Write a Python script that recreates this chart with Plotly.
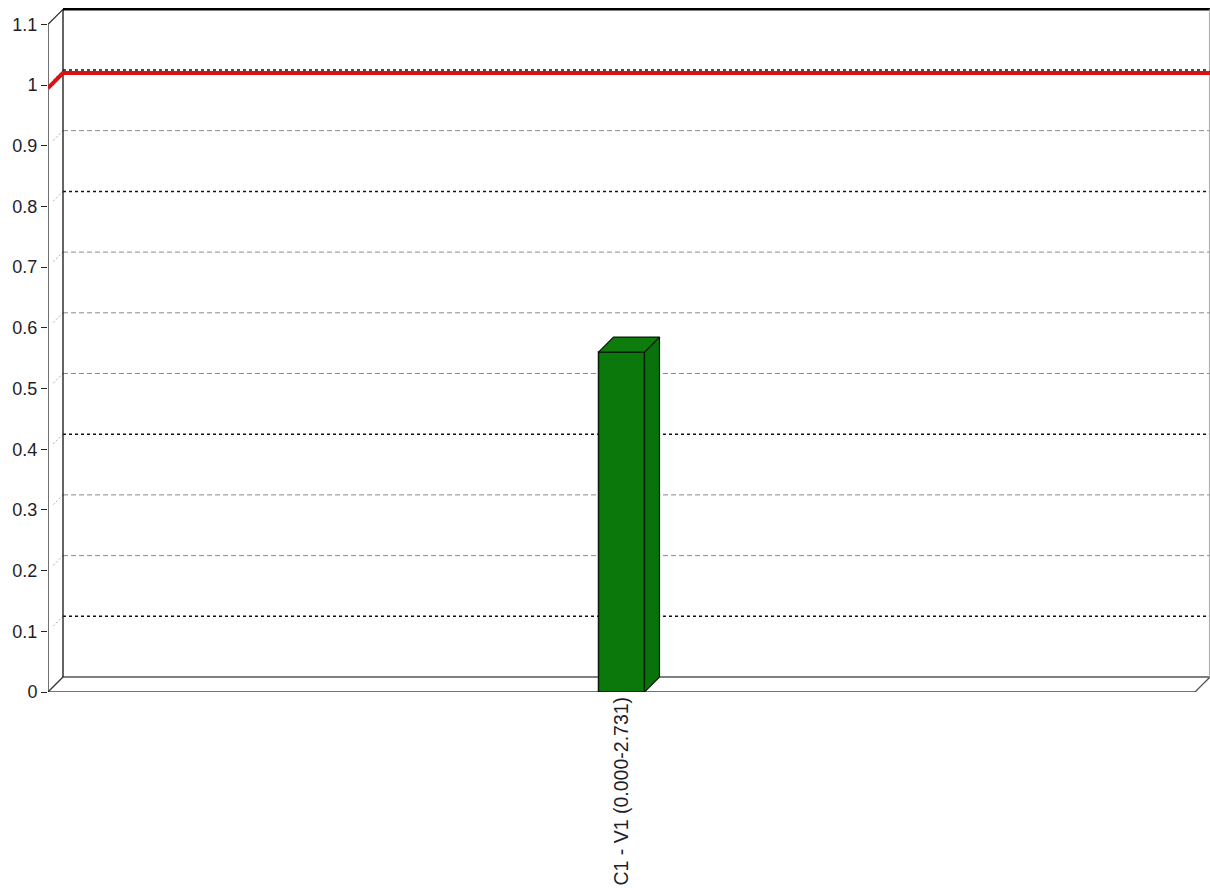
import plotly.graph_objects as go

# ---- data ----
categories = ["C1 - V1 (0.000-2.731)"]
values = [0.56]
limit_level = [0.995]
y_ticks = [0, 0.1, 0.2, 0.3, 0.4, 0.5, 0.6, 0.7, 0.8, 0.9, 1.0, 1.1]

# ---- geometry of the pseudo-3D frame ----
W, H = 1210, 896
LEFT = 48            # left margin (front axis position)
ZERO_PX = 692        # vertical pixel of y = 0 on the front plane
PX_PER_Y = 607       # pixels per unit on the y scale
FRONT_W = 1147       # pixel width of one category slot on the front plane
DEPTH = 15           # depth offset of the back wall, in pixels

x_lo = -0.5
x_hi = x_lo + (W - LEFT) / FRONT_W
y_hi = ZERO_PX / PX_PER_Y
dx = DEPTH / FRONT_W
dy = DEPTH / PX_PER_Y
y_top = y_ticks[-1]
x_front_r = 0.5

bar_w = 46 / FRONT_W

shapes = []


def seg(x0, y0, x1, y1, color, width=1, dash="solid"):
    shapes.append(dict(type="line", xref="x", yref="y", x0=x0, y0=y0, x1=x1, y1=y1,
                       line=dict(color=color, width=width, dash=dash), layer="below"))


# back-wall grid lines and their short diagonals on the left side wall
dark_levels = {0.1, 0.4, 0.8, 1.0}
for t in y_ticks[1:-1]:
    dark = round(t, 1) in dark_levels
    color = "#111111" if dark else "#8a8a8a"
    dash = "3px,3px" if dark else "5px,3px"
    seg(x_lo + dx, t + dy, x_hi, t + dy, color, 1.5 if dark else 1, dash)
    seg(x_lo + dx * 0.35, t + dy * 0.35, x_lo + dx, t + dy, "#aaaaaa", 1, "2px,2px")

# floor
seg(x_lo, 0, x_front_r, 0, "#444444", 1.3)
seg(x_lo + dx, dy, x_front_r + dx, dy, "#555555", 1.3)
seg(x_lo, 0, x_lo + dx, dy, "#333333", 1.3)
seg(x_front_r, 0, x_front_r + dx, dy, "#555555", 1.3)

# back wall frame
seg(x_lo + dx, dy, x_lo + dx, y_top + dy, "#111111", 1.3)
seg(x_lo + dx, y_top + dy, x_hi, y_top + dy, "#000000", 2.5)
seg(x_lo, y_top, x_lo + dx, y_top + dy, "#222222", 1.2)
seg(x_front_r + dx - 0.0005, dy, x_front_r + dx - 0.0005, y_top + dy, "#aaaaaa", 1)

# front value axis
seg(x_lo, 0, x_lo, y_top, "#222222", 1.3)

fig = go.Figure()

# limit line, running from the front axis onto the back wall
lv = limit_level[0]
fig.add_trace(go.Scatter(
    x=[x_lo, x_lo + dx, x_hi], y=[lv, lv + dy, lv + dy],
    mode="lines", line=dict(color="#e01010", width=4), hoverinfo="skip",
    cliponaxis=False, showlegend=False))

# bar: front face
fig.add_trace(go.Bar(
    x=[0], y=values, width=bar_w,
    marker=dict(color="#0b780b", line=dict(color="#0a1a0a", width=1.5)),
    showlegend=False))

# bar: side and top faces
v = values[0]
xl, xr = -bar_w / 2, bar_w / 2
fig.add_trace(go.Scatter(
    x=[xr, xr + dx, xr + dx, xr, xr], y=[0, dy, v + dy, v, 0],
    fill="toself", fillcolor="#0a720a", mode="lines",
    line=dict(color="#0a1a0a", width=1.2), hoverinfo="skip", showlegend=False))
fig.add_trace(go.Scatter(
    x=[xl, xl + dx, xr + dx, xr, xl], y=[v, v + dy, v + dy, v, v],
    fill="toself", fillcolor="#0d7c0d", mode="lines",
    line=dict(color="#0a1a0a", width=1.2), hoverinfo="skip", showlegend=False))

fig.update_layout(
    width=W, height=H,
    margin=dict(l=LEFT, r=0, t=0, b=H - ZERO_PX, pad=0),
    plot_bgcolor="white", paper_bgcolor="white",
    shapes=shapes,
    font=dict(family="Arial, Liberation Sans, sans-serif", size=18, color="#1e1e2a"),
    xaxis=dict(range=[x_lo, x_hi], tickvals=[0], ticktext=categories, tickangle=-90,
               showgrid=False, zeroline=False, showline=False, ticks="",
               tickfont=dict(size=19.5)),
    yaxis=dict(range=[0, y_hi], tickvals=y_ticks, showgrid=False, zeroline=False,
               showline=False, ticks="outside", ticklen=6, tickcolor="#222222",
               tickfont=dict(size=18)),
)

fig.write_html("out.html")
